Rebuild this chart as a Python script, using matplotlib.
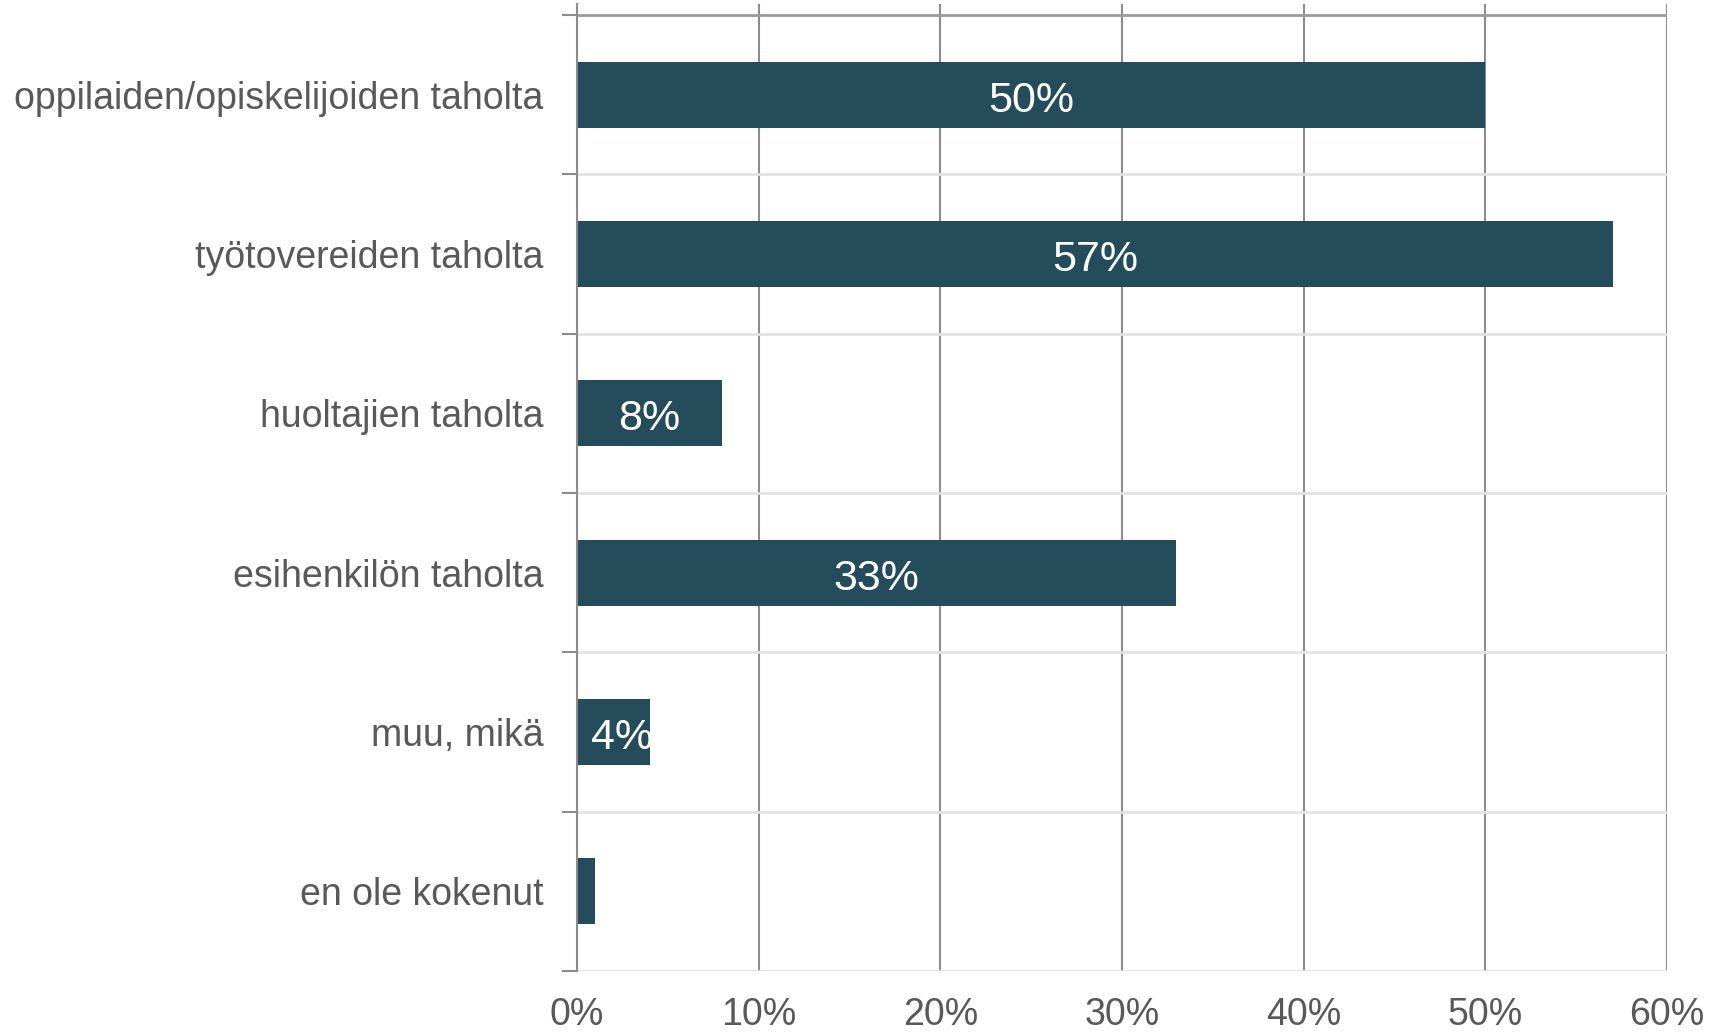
import matplotlib.pyplot as plt
from matplotlib.ticker import FuncFormatter

plt.rcParams['font.family'] = ['Liberation Sans', 'DejaVu Sans']

# data
categories = [
    "oppilaiden/opiskelijoiden taholta",
    "työtovereiden taholta",
    "huoltajien taholta",
    "esihenkilön taholta",
    "muu, mikä",
    "en ole kokenut",
]
values = [50, 57, 8, 33, 4, 1]
show_label = [True, True, True, True, True, False]
x_ticks = [0, 10, 20, 30, 40, 50, 60]

bar_color = "#244c5a"
text_gray = "#595959"

fig = plt.figure(figsize=(17.11, 10.34), dpi=100)
ax = fig.add_axes([0.3372, 0.0609, 0.6371, 0.9352])

ypos = list(range(len(categories)))
bars = ax.barh(ypos, values, height=0.415, color=bar_color, zorder=3)

# value labels centred in bars, clipped to the bar like Excel does
for bar, v, show in zip(bars, values, show_label):
    if not show:
        continue
    cx = bar.get_x() + bar.get_width() / 2
    if bar.get_width() < 6:
        # narrow bar: excel pushes the label a bit right and cuts it off
        cx += 0.5
    t = ax.text(cx, bar.get_y() + bar.get_height() / 2 + 0.01,
                f"{v}%", ha="center", va="center_baseline", color="white", fontsize=31, zorder=4)
    t.set_clip_path(bar)

ax.set_xlim(0, 60)
ax.set_ylim(len(categories) - 0.5, -0.569)

# vertical grid
ax.set_xticks(x_ticks)
ax.xaxis.set_major_formatter(FuncFormatter(lambda x, p: f"{x:.0f}%"))
ax.grid(axis="x", color="#8c8c8c", linewidth=1.5, zorder=1)
ax.tick_params(axis="x", length=0, labelsize=27, labelcolor=text_gray, pad=19)

# category band lines
ax.axhline(-0.5, color="#9a9a9a", linewidth=2, zorder=2)
for b in range(1, len(categories) + 1):
    ax.axhline(b - 0.5, color="#e3e3e3", linewidth=2, zorder=2)

# left axis with ticks at band boundaries
ax.set_yticks(ypos)
ax.set_yticklabels(categories)
ax.set_yticks([b - 0.5 for b in range(len(categories) + 1)], minor=True)
ax.tick_params(axis="y", which="major", length=0, labelsize=27, labelcolor=text_gray, pad=24)
ax.tick_params(axis="y", which="minor", length=11, width=1.5, color="#8c8c8c")

for s in ["top", "right", "bottom"]:
    ax.spines[s].set_visible(False)
ax.spines["left"].set_color("#8c8c8c")
ax.spines["left"].set_linewidth(1.5)
ax.spines["left"].set_zorder(5)

plt.savefig("out.png", dpi=100)
